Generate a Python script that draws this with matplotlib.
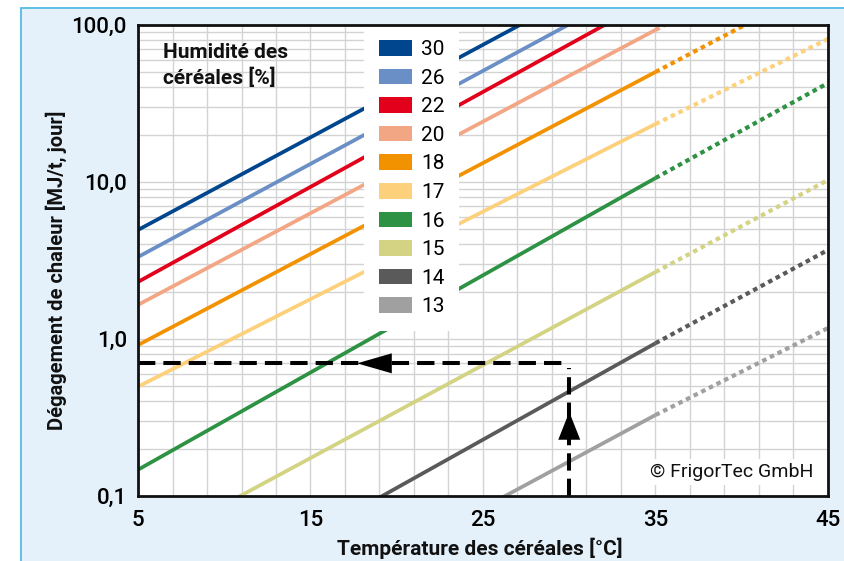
import matplotlib
matplotlib.use("Agg")
import matplotlib.pyplot as plt
from matplotlib.patches import Rectangle, Patch
import numpy as np

# ---------------- data ----------------
humidity = [30, 26, 22, 20, 18, 17, 16, 15, 14, 13]
colors = ["#00468e", "#6a8ec6", "#e2001a", "#f3a683", "#f39200",
          "#fdd17b", "#2e9245", "#d3d383", "#5a5a5a", "#a0a0a0"]
temp_solid = [5, 35]
temp_dotted = [35, 45]
heat_at_5 = [4.95, 3.33, 2.31, 1.65, 0.915, 0.497, 0.147, 0.0446, 0.0135, 0.0055]
heat_at_35 = [291, 200, 151, 93, 50.2, 23.4, 10.6, 2.67, 0.94, 0.328]
heat_at_45 = [1130, 783, 605, 357, 190, 81.5, 42.7, 10.3, 3.69, 1.175]

x_ticks = [5, 15, 25, 35, 45]
x_ticklabels = ["5", "15", "25", "35", "45"]
y_ticks = [0.1, 1, 10, 100]
y_ticklabels = ["0,1", "1,0", "10,0", "100,0"]

example_temp = 30
example_heat = 0.7

FONT = ["Roboto", "DejaVu Sans"]
plt.rcParams["font.family"] = FONT

fig = plt.figure(figsize=(8.44, 5.61), dpi=100, facecolor="white")
# light blue panel with border (top & left visible)
fig.patches.append(Rectangle((21 / 844, -0.02), 1.1, 1 - 8 / 561 + 0.02,
                             transform=fig.transFigure, facecolor="#e4f1fa",
                             edgecolor="#55bbe4", linewidth=1.3, zorder=0))

ax = fig.add_axes([138 / 844, 1 - 496 / 561, 690 / 844, 471 / 561])
ax.set_zorder(2)
ax.set_facecolor("white")
ax.set_yscale("log")
ax.set_xlim(5, 45)
ax.set_ylim(0.1, 100)

# grid
ax.set_xticks(x_ticks)
ax.set_xticklabels(x_ticklabels)
ax.set_xticks(np.arange(5, 46, 2), minor=True)
ax.set_yticks(y_ticks)
ax.set_yticklabels(y_ticklabels)
ax.grid(True, which="both", color="#d3d3d3", linewidth=1.0, zorder=0)
ax.set_axisbelow(True)
ax.tick_params(which="both", length=0)
ax.tick_params(axis="y", pad=8, labelsize=16)
ax.tick_params(axis="x", pad=10, labelsize=16)
for lab in ax.get_xticklabels() + ax.get_yticklabels():
    lab.set_fontweight("medium")
ax.yaxis.set_minor_formatter(plt.NullFormatter())

for sp in ax.spines.values():
    sp.set_linewidth(2.0)
    sp.set_color("#111111")
    sp.set_zorder(10)

# lines
for h, c, v5, v35, v45 in zip(humidity, colors, heat_at_5, heat_at_35, heat_at_45):
    ax.plot(temp_solid, [v5, v35], color=c, lw=2.7, solid_capstyle="butt", zorder=3)
    ax.plot(temp_dotted, [v35, v45], color=c, lw=3.0,
            linestyle=(0, (1.1, 0.95)), dash_capstyle="butt", zorder=3)

# example dashed lines with arrows
dash = (0, (4.3, 2.0))
ax.plot([5, example_temp], [example_heat, example_heat], color="black", lw=2.9,
        linestyle=dash, dash_capstyle="butt", zorder=4)
ax.plot([example_temp, example_temp], [0.1, 0.655], color="black", lw=2.9,
        linestyle=dash, dash_capstyle="butt", zorder=4)
ax.annotate("", xy=(17.7, example_heat), xytext=(20.3, example_heat),
            arrowprops=dict(arrowstyle="-|>,head_length=25,head_width=7.2",
                            mutation_scale=1, facecolor="black", edgecolor="black",
                            linewidth=0, shrinkA=0, shrinkB=0), zorder=5)
ax.annotate("", xy=(example_temp, 0.343), xytext=(example_temp, 0.21),
            arrowprops=dict(arrowstyle="-|>,head_length=20,head_width=7.9",
                            mutation_scale=1, facecolor="black", edgecolor="black",
                            linewidth=0, shrinkA=0, shrinkB=0), zorder=5)

# legend
handles = [Patch(facecolor=c, edgecolor="none") for c in colors]
leg = ax.legend(handles, [str(h) for h in humidity], loc="upper left",
                bbox_to_anchor=((364 - 138) / 690, 1.0), borderaxespad=0,
                fontsize=15, handlelength=1.58, handleheight=0.77,
                handletextpad=0.43, borderpad=0.72, labelspacing=0.46,
                frameon=True, fancybox=False, framealpha=1)
leg.get_frame().set_facecolor("white")
leg.get_frame().set_edgecolor("none")
leg.get_frame().set_linewidth(0)
leg.set_zorder(6)

ax.text((163 - 138) / 690, 0.962, "Humidité des\ncéréales [%]", transform=ax.transAxes,
        ha="left", va="top", fontsize=15, fontweight="bold", linespacing=1.35,
        color="#111111", zorder=7)

ax.text((813 - 138) / 690, (496 - 472) / 471, "© FrigorTec GmbH", transform=ax.transAxes,
        ha="right", va="center", fontsize=14, color="#111111", zorder=7,
        bbox=dict(facecolor="white", edgecolor="none", pad=3))

ax.set_xlabel("Température des céréales [°C]", fontsize=15, fontweight="bold",
              va="center", color="#111111")
ax.xaxis.set_label_coords((480 - 138) / 690, (496 - 548) / 471)
ax.set_ylabel("Dégagement de chaleur [MJ/t, jour]", fontsize=14.5, fontweight="bold",
              va="center", ha="center", color="#111111")
ax.yaxis.set_label_coords((56 - 138) / 690, (496 - 270) / 471)

fig.savefig("out.png", dpi=100, facecolor=fig.get_facecolor())
